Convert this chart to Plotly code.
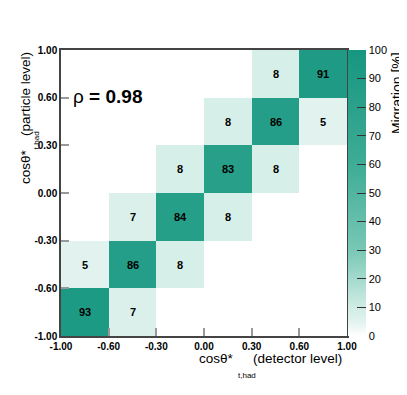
import plotly.graph_objects as go

# bin edges (same for detector and particle level)
bin_edges = ["-1.00", "-0.60", "-0.30", "0.00", "0.30", "0.60", "1.00"]

# migration matrix in percent, rows = particle level bins (bottom to top),
# columns = detector level bins (left to right); None = empty bin
migration = [
    [93, 7, None, None, None, None],
    [5, 86, 8, None, None, None],
    [None, 7, 84, 8, None, None],
    [None, None, 8, 83, 8, None],
    [None, None, None, 8, 86, 5],
    [None, None, None, None, 8, 91],
]
correlation = "0.98"

cbar_ticks = [0, 10, 20, 30, 40, 50, 60, 70, 80, 90, 100]

font = "Liberation Sans, Arial, sans-serif"
edges = list(range(len(bin_edges)))

labels = [["" if v is None else f"<b>{v}</b>" for v in row] for row in migration]

colorscale = [
    [0.0, "rgb(255,255,255)"],
    [0.05, "rgb(226,243,239)"],
    [0.10, "rgb(208,236,229)"],
    [0.30, "rgb(120,200,181)"],
    [0.60, "rgb(62,172,150)"],
    [1.0, "rgb(22,150,128)"],
]

fig = go.Figure(go.Heatmap(
    x=edges,
    y=edges,
    z=migration,
    text=labels,
    texttemplate="%{text}",
    textfont=dict(family=font, size=11, color="black"),
    colorscale=colorscale,
    zmin=0,
    zmax=100,
    hoverongaps=False,
    colorbar=dict(
        x=1.004, xanchor="left", xpad=0,
        y=0, yanchor="bottom", len=1, ypad=0,
        thickness=18,
        outlinewidth=0,
        tickvals=cbar_ticks,
        ticks="inside", ticklen=9, tickcolor="#333",
        tickfont=dict(family=font, size=11, color="black"),
    ),
))

axis_common = dict(
    range=[0, 6],
    tickvals=edges,
    ticktext=[f"<b>{t}</b>" for t in bin_edges],
    ticks="inside",
    ticklen=8,
    tickcolor="#999",
    tickwidth=1.5,
    showgrid=False,
    zeroline=False,
    showline=True,
    linecolor="#444",
    linewidth=1.5,
    mirror=True,
    tickfont=dict(family=font, size=10, color="black"),
)

fig.update_xaxes(**axis_common)
fig.update_yaxes(**axis_common)

title_font = dict(family=font, size=13.5, color="black")
sub_font = dict(family=font, size=8, color="black")

# the page body adds 8px, so margins are set 8px smaller
fig.update_layout(
    width=407,
    height=395,
    margin=dict(l=53, r=68, t=42, b=67, autoexpand=False),
    paper_bgcolor="white",
    plot_bgcolor="white",
    showlegend=False,
    annotations=[
        dict(text=f"ρ <b>= {correlation}</b>", xref="paper", yref="paper",
             x=0.035, y=0.836, xanchor="left", yanchor="middle", showarrow=False,
             font=dict(family=font, size=19, color="black")),
        # x axis title
        dict(text="cosθ*", xref="paper", yref="paper",
             x=0.612, y=-0.08, xanchor="right", yanchor="middle", showarrow=False,
             font=title_font),
        dict(text="t,had", xref="paper", yref="paper",
             x=0.650, y=-0.138, xanchor="center", yanchor="middle", showarrow=False,
             font=sub_font),
        dict(text="(detector level)", xref="paper", yref="paper",
             x=0.99, y=-0.08, xanchor="right", yanchor="middle", showarrow=False,
             font=title_font),
        # y axis title
        dict(text="(particle level)", xref="paper", yref="paper",
             x=-0.126, y=1.0, xanchor="center", yanchor="top", textangle=-90,
             showarrow=False, font=title_font),
        dict(text="cosθ*", xref="paper", yref="paper",
             x=-0.126, y=0.594, xanchor="center", yanchor="middle", textangle=-90,
             showarrow=False, font=title_font),
        dict(text="t,had", xref="paper", yref="paper",
             x=-0.087, y=0.685, xanchor="center", yanchor="middle", textangle=-90,
             showarrow=False, font=sub_font),
        # colorbar title
        dict(text="Migration [%]", xref="paper", yref="paper",
             x=1.175, y=1.0, xanchor="center", yanchor="top", textangle=-90,
             showarrow=False, font=dict(family=font, size=14, color="black")),
    ],
)

fig.write_html("out.html")
